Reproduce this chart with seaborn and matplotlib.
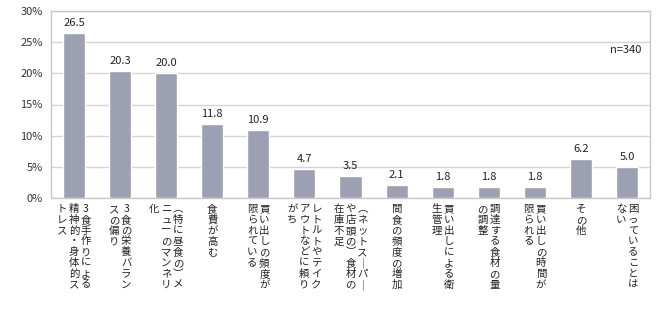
import matplotlib
matplotlib.use("Agg")
import matplotlib.pyplot as plt
import matplotlib.transforms as mtransforms
import seaborn as sns
import pandas as pd

categories = [
    "3食手作りによる精神的・身体的ストレス",
    "3食の栄養バランスの偏り",
    "︵特に昼食の︶メニューのマンネリ化",
    "食費が高む",
    "買い出しの頻度が限られている",
    "レトルトやテイクアウトなどに頼りがち",
    "︵ネットス｜パ｜や店頭の︶食材の在庫不足",
    "間食の頻度の増加",
    "買い出しによる衛生管理",
    "調達する食材の量の調整",
    "買い出しの時間が限られる",
    "その他",
    "困っていることはない",
]
values = [26.5, 20.3, 20.0, 11.8, 10.9, 4.7, 3.5, 2.1, 1.8, 1.8, 1.8, 6.2, 5.0]
yticks = [0, 5, 10, 15, 20, 25, 30]
ytick_labels = ["0%", "5%", "10%", "15%", "20%", "25%", "30%"]
note = "n=340"

sns.set_theme(style="white")
plt.rcParams["font.family"] = ["Noto Sans CJK JP", "DejaVu Sans"]

df = pd.DataFrame({"cat": [f"c{i}" for i in range(len(categories))], "val": values})

fig = plt.figure(figsize=(6.7, 3.15), dpi=100)
ax = fig.add_axes([51 / 670, 1 - 198 / 315, 599 / 670, 187 / 315])
sns.barplot(data=df, x="cat", y="val", color="#9ca0b2", saturation=1, width=0.48, ax=ax, zorder=3)

ax.set_ylim(0, 30)
ax.set_xlim(-0.5, len(categories) - 0.5)
ax.set_yticks(yticks)
ax.set_yticklabels(ytick_labels, fontsize=8, color="#333333")
ax.yaxis.grid(True, color="#d4d4d4", linewidth=1, zorder=0)
ax.set_xticks([])
ax.set_xlabel("")
ax.set_ylabel("")
ax.tick_params(axis="y", length=0, pad=6)
for s in ax.spines.values():
    s.set_color("#c8c8c8")
    s.set_linewidth(1)

for i, v in enumerate(values):
    ax.text(i, v + 0.8, f"{v:.1f}", ha="center", va="bottom", fontsize=8, color="#222222")

base = ax.get_xaxis_transform()
colw = 12
for i, lab in enumerate(categories):
    cols = [lab[k:k + 8] for k in range(0, len(lab), 8)]
    n = len(cols)
    for j, col in enumerate(cols):
        dx = ((n - 1) / 2 - j) * colw
        tr = mtransforms.offset_copy(base, fig=fig, x=dx, y=-6, units="dots")
        ax.text(i, 0, "\n".join(col), transform=tr, ha="center", va="top",
                multialignment="center", fontsize=7.5, linespacing=1.1, color="#222222")

ax.text(0.985, 0.79, note, transform=ax.transAxes, ha="right", va="center", fontsize=8, color="#222222")

fig.savefig("out.png", dpi=100)
